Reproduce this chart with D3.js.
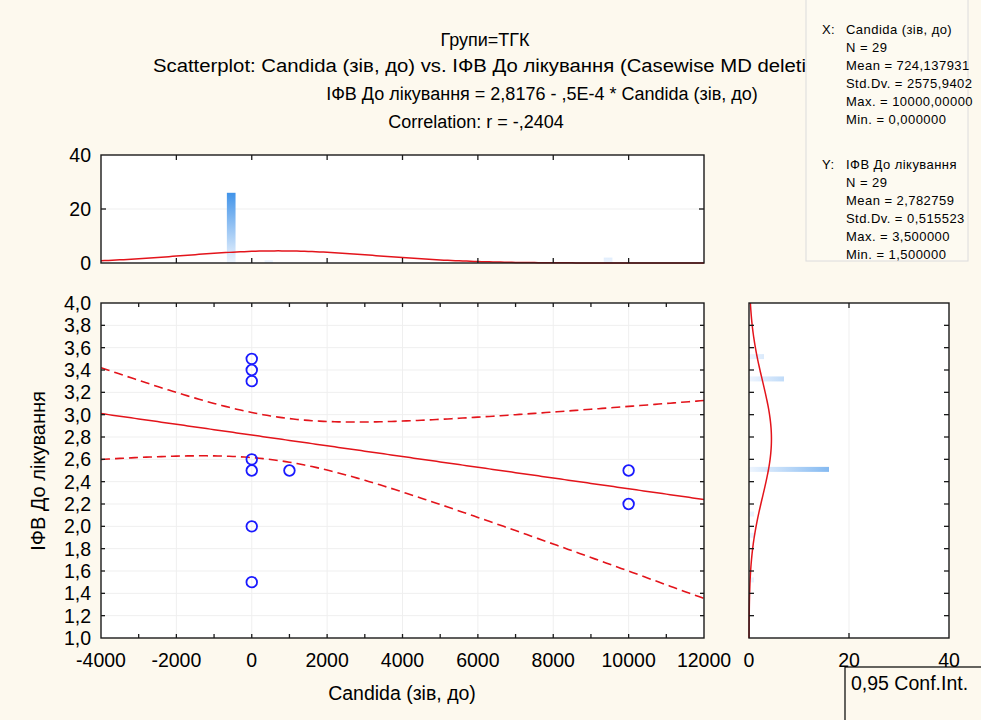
<!DOCTYPE html>
<html>
<head>
<meta charset="utf-8">
<title>Candida vs IFV</title>
<script src="https://cdn.jsdelivr.net/npm/d3@7"></script>
<style>
body { margin: 0; background: #fdf9ee; }
text { font-family: "Liberation Sans", Arial, sans-serif; fill: #000; }
</style>
</head>
<body>
<svg id="chart" width="981" height="720"></svg>
<script>
// ---------------- data ----------------
var titleLines = [
  "Групи=ТГК",
  "Scatterplot: Candida (зів, до) vs. ІФВ До лікування (Casewise MD deletion)",
  "ІФВ До лікування = 2,8176 - ,5E-4  * Candida (зів, до)",
  "Correlation: r = -,2404"
];
// visible (distinct) points
var candida = [0, 0, 0, 0, 0, 0, 0, 1000, 10000, 10000];
var ifv     = [3.5, 3.4, 3.3, 2.6, 2.5, 2.0, 1.5, 2.5, 2.5, 2.2];

// top histogram: bins of Candida
var xBinLo   = [-660, 340, 9340];
var xBinHi   = [-430, 560, 9570];
var xCounts  = [26, 1, 2];
// right histogram: bins of IFV
var yBinMid  = [3.52, 3.32, 2.51, 2.11, 1.92, 1.52];
var yCounts  = [3, 7, 16, 1, 1, 1];

// stats box text, as far as it is visible in the window
var xStatHead = ["X:", "Candida (зів, до)"];
var xStats = ["N = 29", "Mean = 724,137931", "Std.Dv. = 2575,9402", "Max. = 10000,00000", "Min. = 0,000000"];
var yStatHead = ["Y:", "ІФВ До лікування"];
var yStats = ["N = 29", "Mean = 2,782759", "Std.Dv. = 0,515523", "Max. = 3,500000", "Min. = 1,500000"];

var nObs = 29, xMean = 724.137931, xSd = 2575.9402, yMean = 2.782759, ySd = 0.515523;
var rCorr = -0.2404, tCrit = 2.0518;
var xTicks = [-4000, -2000, 0, 2000, 4000, 6000, 8000, 10000, 12000];
var yTicks = [1.0, 1.2, 1.4, 1.6, 1.8, 2.0, 2.2, 2.4, 2.6, 2.8, 3.0, 3.2, 3.4, 3.6, 3.8, 4.0];
var countTicks = [0, 20, 40];

// ---------------- layout ----------------
var svg = d3.select("#chart");
var main = {left: 101, right: 704, top: 303, bottom: 638};
var topH = {top: 155, bottom: 263};
var rightH = {left: 749, right: 949};
var red = "#e3141b", blue = "#1a1aff";
var fs = "19.5px";
var fmt = function (v) { return d3.format(".1f")(v).replace(".", ","); };

var x = d3.scaleLinear().domain([-4000, 12000]).range([main.left, main.right]);
var y = d3.scaleLinear().domain([1, 4]).range([main.bottom, main.top]);
var cy = d3.scaleLinear().domain([0, 40]).range([topH.bottom, topH.top]);
var cx = d3.scaleLinear().domain([0, 40]).range([rightH.left, rightH.right]);

var defs = svg.append("defs");
var g1 = defs.append("linearGradient").attr("id", "gTop").attr("gradientUnits", "userSpaceOnUse")
  .attr("x1", 0).attr("x2", 0).attr("y1", cy(0)).attr("y2", cy(27));
g1.append("stop").attr("offset", 0).attr("stop-color", "#eef5fe");
g1.append("stop").attr("offset", 1).attr("stop-color", "#3b90e8");
var g2 = defs.append("linearGradient").attr("id", "gRight").attr("gradientUnits", "userSpaceOnUse")
  .attr("y1", 0).attr("y2", 0).attr("x1", cx(0)).attr("x2", cx(27));
g2.append("stop").attr("offset", 0).attr("stop-color", "#eef5fe");
g2.append("stop").attr("offset", 1).attr("stop-color", "#3b90e8");

// ---------------- titles ----------------
var titleY = [46, 72, 100, 128];
var titleX = [485, 153, 542, 476];
var titles = svg.selectAll(".title").data(titleLines).enter().append("text")
  .attr("class", "title")
  .attr("x", function (d, i) { return titleX[i]; })
  .attr("y", function (d, i) { return titleY[i]; })
  .attr("text-anchor", function (d, i) { return i === 1 ? "start" : "middle"; })
  .style("font-size", "18px")
  .text(function (d) { return d; });
// the long line runs under the stats box; stretch it so "deleti" meets the box edge
var longLine = titles.filter(function (d, i) { return i === 1; }).node();
var cut = titleLines[1].indexOf("on)");
var part = longLine.getSubStringLength(0, cut);
longLine.setAttribute("textLength", longLine.getComputedTextLength() * (806 - 153) / part);
longLine.setAttribute("lengthAdjust", "spacingAndGlyphs");

// ---------------- panels ----------------
function panel(x0, x1, y0, y1) {
  svg.append("rect").attr("x", x0).attr("y", y0).attr("width", x1 - x0).attr("height", y1 - y0)
    .attr("fill", "#fff");
}
panel(main.left, main.right, main.top, main.bottom);
panel(main.left, main.right, topH.top, topH.bottom);
panel(rightH.left, rightH.right, main.top, main.bottom);

// gridlines
var grid = svg.append("g").attr("stroke", "#efefef").attr("stroke-width", 1);
grid.selectAll(".gx").data(xTicks.slice(1, -1)).enter().append("line")
  .attr("x1", function (d) { return x(d); }).attr("x2", function (d) { return x(d); })
  .attr("y1", main.top).attr("y2", main.bottom);
grid.selectAll(".gy").data(yTicks.slice(1, -1)).enter().append("line")
  .attr("y1", function (d) { return y(d); }).attr("y2", function (d) { return y(d); })
  .attr("x1", main.left).attr("x2", main.right);
grid.append("line").attr("x1", cx(20)).attr("x2", cx(20)).attr("y1", main.top).attr("y2", main.bottom);
grid.append("line").attr("y1", cy(20)).attr("y2", cy(20)).attr("x1", main.left).attr("x2", main.right);

// ---------------- histograms ----------------
svg.selectAll(".hbar").data(xCounts).enter().append("rect")
  .attr("x", function (d, i) { return x(xBinLo[i]); })
  .attr("width", function (d, i) { return x(xBinHi[i]) - x(xBinLo[i]); })
  .attr("y", function (d) { return cy(d); })
  .attr("height", function (d) { return cy(0) - cy(d); })
  .attr("fill", "url(#gTop)");

svg.selectAll(".vbar").data(yCounts).enter().append("rect")
  .attr("x", cx(0))
  .attr("width", function (d) { return cx(d) - cx(0); })
  .attr("y", function (d, i) { return y(yBinMid[i]) - 2.5; })
  .attr("height", 5)
  .attr("fill", "url(#gRight)");

// fitted normal curves (from the N / mean / sd in the stats box)
function npdf(v, m, s) { return Math.exp(-0.5 * Math.pow((v - m) / s, 2)) / (s * Math.sqrt(2 * Math.PI)); }
var xs = d3.range(-4000, 12001, 100);
svg.append("path").datum(xs)
  .attr("fill", "none").attr("stroke", red).attr("stroke-width", 1.5)
  .attr("d", d3.line().x(function (d) { return x(d); })
    .y(function (d) { return cy(nObs * 1000 * npdf(d, xMean, xSd)); }));
var ys = d3.range(1, 4.001, 0.02);
svg.append("path").datum(ys)
  .attr("fill", "none").attr("stroke", red).attr("stroke-width", 1.5)
  .attr("d", d3.line().y(function (d) { return y(d); })
    .x(function (d) { return cx(nObs * 0.2 * npdf(d, yMean, ySd)); }));

// ---------------- regression + 95% bands ----------------
var slope = rCorr * ySd / xSd;
var icpt = yMean - slope * xMean;
var sRes = Math.sqrt((1 - rCorr * rCorr) * (nObs - 1) * ySd * ySd / (nObs - 2));
var sxx = (nObs - 1) * xSd * xSd;
function hw(v) { return tCrit * sRes * Math.sqrt(1 / nObs + Math.pow(v - xMean, 2) / sxx); }
var fit = function (v) { return icpt + slope * v; };

var clipMain = defs.append("clipPath").attr("id", "clipMain");
clipMain.append("rect").attr("x", main.left).attr("y", main.top)
  .attr("width", main.right - main.left).attr("height", main.bottom - main.top);
var reg = svg.append("g").attr("clip-path", "url(#clipMain)");
reg.append("path").datum(xs).attr("fill", "none").attr("stroke", red).attr("stroke-width", 1.5)
  .attr("d", d3.line().x(function (d) { return x(d); }).y(function (d) { return y(fit(d)); }));
[1, -1].forEach(function (sg) {
  reg.append("path").datum(xs).attr("fill", "none").attr("stroke", red).attr("stroke-width", 1.6)
    .attr("stroke-dasharray", "9,5")
    .attr("d", d3.line().x(function (d) { return x(d); }).y(function (d) { return y(fit(d) + sg * hw(d)); }));
});

// ---------------- points ----------------
svg.selectAll(".pt").data(candida).enter().append("circle")
  .attr("cx", function (d) { return x(d); })
  .attr("cy", function (d, i) { return y(ifv[i]); })
  .attr("r", 5.3).attr("fill", "none").attr("stroke", blue).attr("stroke-width", 1.8);

// ---------------- frames & ticks ----------------
function frame(x0, x1, y0, y1) {
  svg.append("rect").attr("x", x0).attr("y", y0).attr("width", x1 - x0).attr("height", y1 - y0)
    .attr("fill", "none").attr("stroke", "#1a1a1a").attr("stroke-width", 1.4);
}
var tk = svg.append("g").attr("stroke", "#1a1a1a").attr("stroke-width", 1.3);
function hTicks(vals, sc, y0, y1, len) {
  vals.forEach(function (v) {
    tk.append("line").attr("x1", sc(v)).attr("x2", sc(v)).attr("y1", y0).attr("y2", y0 + len);
    tk.append("line").attr("x1", sc(v)).attr("x2", sc(v)).attr("y1", y1).attr("y2", y1 - len);
  });
}
function vTicks(vals, sc, x0, x1, len) {
  vals.forEach(function (v) {
    tk.append("line").attr("y1", sc(v)).attr("y2", sc(v)).attr("x1", x0).attr("x2", x0 + len);
    tk.append("line").attr("y1", sc(v)).attr("y2", sc(v)).attr("x1", x1).attr("x2", x1 - len);
  });
}
var minorX = d3.range(-3000, 12000, 1000);
hTicks(minorX, x, main.top, main.bottom, 4);
vTicks(yTicks.slice(1, -1), y, main.left, main.right, 4);
hTicks(xTicks.slice(1, -1), x, topH.top, topH.bottom, 5);
vTicks([20], cy, main.left, main.right, 5);
vTicks(yTicks.slice(1, -1), y, rightH.left, rightH.right, 5);
hTicks([20], cx, main.top, main.bottom, 5);
frame(main.left, main.right, main.top, main.bottom);
frame(main.left, main.right, topH.top, topH.bottom);
frame(rightH.left, rightH.right, main.top, main.bottom);

// tick labels
svg.selectAll(".xl").data(xTicks).enter().append("text")
  .attr("x", function (d) { return x(d); }).attr("y", 667)
  .attr("text-anchor", "middle").style("font-size", fs).text(function (d) { return d; });
svg.selectAll(".yl").data(yTicks).enter().append("text")
  .attr("x", 91).attr("y", function (d) { return y(d); }).attr("dy", "0.36em")
  .attr("text-anchor", "end").style("font-size", fs).text(fmt);
svg.selectAll(".cyl").data(countTicks).enter().append("text")
  .attr("x", 91).attr("y", function (d) { return cy(d); }).attr("dy", "0.36em")
  .attr("text-anchor", "end").style("font-size", fs).text(function (d) { return d; });
svg.selectAll(".cxl").data(countTicks).enter().append("text")
  .attr("x", function (d) { return cx(d); }).attr("y", 667)
  .attr("text-anchor", "middle").style("font-size", fs).text(function (d) { return d; });

// axis titles
svg.append("text").attr("x", 402).attr("y", 700).attr("text-anchor", "middle")
  .style("font-size", fs).text("Candida (зів, до)");
svg.append("text").attr("transform", "translate(45,471) rotate(-90)").attr("text-anchor", "middle")
  .style("font-size", "20px").text("ІФВ До лікування");

// ---------------- stats box ----------------
svg.append("rect").attr("x", 806).attr("y", -2).attr("width", 162).attr("height", 263)
  .attr("fill", "#fdfaf1").attr("stroke", "#dcdcdc");
function statBlock(head, lines, y0) {
  var t = svg.append("g").style("font-size", "13px").style("letter-spacing", "0.45px");
  t.append("text").attr("x", 822).attr("y", y0).attr("dy", "0.35em").text(head[0]);
  t.append("text").attr("x", 846).attr("y", y0).attr("dy", "0.35em").text(head[1]);
  t.selectAll(null).data(lines).enter().append("text")
    .attr("x", 846)
    .attr("y", function (d, i) { return y0 + (i + 1) * 18; })
    .attr("dy", "0.35em")
    .text(function (d) { return d; });
}
statBlock(xStatHead, xStats, 29);
statBlock(yStatHead, yStats, 164);

// ---------------- legend ----------------
svg.append("rect").attr("x", 845).attr("y", 667).attr("width", 150).attr("height", 70)
  .attr("fill", "#fdf9ee").attr("stroke", "#000").attr("stroke-width", 1.2);
svg.append("text").attr("x", 851).attr("y", 690).style("font-size", fs).text("0,95 Conf.Int.");
</script>
</body>
</html>
